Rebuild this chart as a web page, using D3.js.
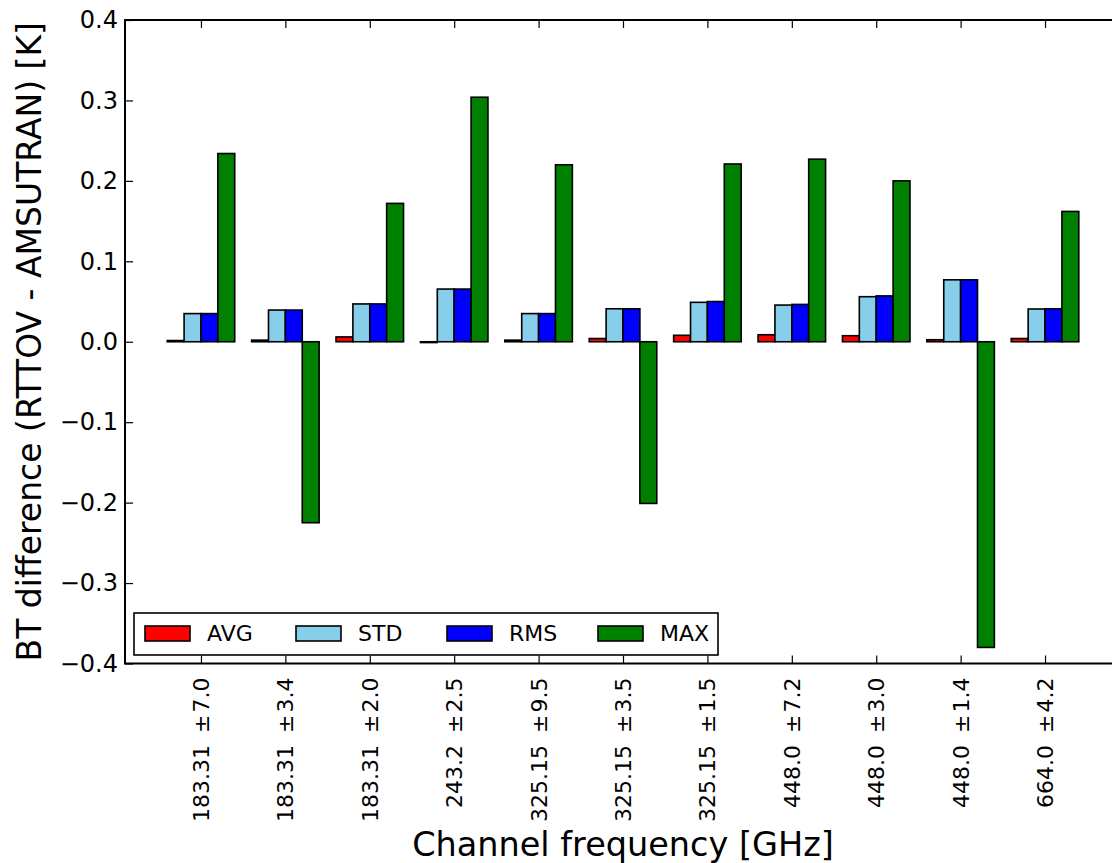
<!DOCTYPE html>
<html>
<head>
<meta charset="utf-8">
<script src="https://cdn.jsdelivr.net/npm/d3@7"></script>
<style>
  html, body { margin: 0; padding: 0; background: #fff; }
  svg text { font-family: "DejaVu Sans", sans-serif; fill: #000; }
</style>
</head>
<body>
<svg id="chart" width="1112" height="863"></svg>
<script>
// Channel labels: centre frequency and sideband offset [GHz]
const channelFreq = ["183.31", "183.31", "183.31", "243.2", "325.15", "325.15", "325.15", "448.0", "448.0", "448.0", "664.0"];
const channelOffset = ["7.0", "3.4", "2.0", "2.5", "9.5", "3.5", "1.5", "7.2", "3.0", "1.4", "4.2"];

// BT difference statistics per channel [K]
const avgValues = [0.0015, 0.002, 0.006, -0.001, 0.002, 0.004, 0.008, 0.0087, 0.0075, 0.0025, 0.004];
const stdValues = [0.035, 0.0394, 0.047, 0.0655, 0.035, 0.041, 0.049, 0.0456, 0.056, 0.077, 0.0407];
const rmsValues = [0.035, 0.0394, 0.047, 0.0655, 0.035, 0.041, 0.050, 0.0464, 0.057, 0.077, 0.041];
const maxValues = [0.234, -0.225, 0.172, 0.304, 0.220, -0.201, 0.221, 0.227, 0.200, -0.380, 0.162];

const seriesNames = ["AVG", "STD", "RMS", "MAX"];
const seriesColors = ["#ff0000", "#87ceeb", "#0000ff", "#008000"];
const seriesValues = [avgValues, stdValues, rmsValues, maxValues];

const yTicks = [-0.4, -0.3, -0.2, -0.1, 0.0, 0.1, 0.2, 0.3, 0.4];

const svg = d3.select("#chart");

const plot = { left: 125, top: 20, right: 1121, bottom: 663.5 };
const barWidth = 0.2;

const x = d3.scaleLinear().domain([0, 11.8]).range([plot.left, plot.right]);
const y = d3.scaleLinear().domain([-0.4, 0.4]).range([plot.bottom, plot.top]);

const tickPos = channelFreq.map((_, i) => 0.9 + i);
const fmt = v => (v < 0 ? "\u2212" : "") + Math.abs(v).toFixed(1);

// Bars
const bars = svg.append("g");
seriesValues.forEach((vals, s) => {
  bars.selectAll(null)
    .data(vals)
    .enter()
    .append("rect")
    .attr("x", (d, i) => x(0.5 + i + s * barWidth))
    .attr("width", x(barWidth) - x(0))
    .attr("y", d => y(Math.max(0, d)))
    .attr("height", d => Math.abs(y(d) - y(0)))
    .attr("fill", seriesColors[s])
    .attr("stroke", "#000")
    .attr("stroke-width", 1.6);
});

// Axes (ticks pointing inward)
const tickLen = 8;
const yAxis = d3.axisLeft(y).tickValues(yTicks).tickFormat(fmt).tickSizeInner(-tickLen).tickSizeOuter(0).tickPadding(7);
const gy = svg.append("g").attr("transform", `translate(${plot.left},0)`).call(yAxis);
gy.select(".domain").remove();
gy.selectAll(".tick line").attr("stroke", "#000").attr("stroke-width", 1.2);
gy.selectAll(".tick text").attr("font-size", 24).attr("font-family", "DejaVu Sans");

const xAxis = d3.axisBottom(x).tickValues(tickPos).tickFormat("").tickSizeInner(-tickLen).tickSizeOuter(0);
const gx = svg.append("g").attr("transform", `translate(0,${plot.bottom})`).call(xAxis);
gx.select(".domain").remove();
gx.selectAll(".tick line").attr("stroke", "#000").attr("stroke-width", 1.2);

const xTop = d3.axisTop(x).tickValues(tickPos).tickFormat("").tickSizeInner(-tickLen).tickSizeOuter(0);
const gxt = svg.append("g").attr("transform", `translate(0,${plot.top})`).call(xTop);
gxt.select(".domain").remove();
gxt.selectAll(".tick line").attr("stroke", "#000").attr("stroke-width", 1.2);

// Rotated channel labels
const xl = svg.append("g").attr("font-size", 22);
tickPos.forEach((t, i) => {
  const tx = x(t) + 8;
  const ty = plot.bottom + 14;
  const txt = xl.append("text")
    .attr("transform", `translate(${tx},${ty}) rotate(-90)`)
    .attr("text-anchor", "end");
  txt.append("tspan").text(channelFreq[i]);
  txt.append("tspan").attr("dx", 12).text("\u00b1");
  txt.append("tspan").attr("dx", 2).text(channelOffset[i]);
});

// Frame
svg.append("rect")
  .attr("x", plot.left).attr("y", plot.top)
  .attr("width", plot.right - plot.left).attr("height", plot.bottom - plot.top)
  .attr("fill", "none").attr("stroke", "#000").attr("stroke-width", 2);

// Axis titles
svg.append("text")
  .attr("transform", `translate(41,${(plot.top + plot.bottom) / 2}) rotate(-90)`)
  .attr("text-anchor", "middle").attr("font-size", 33)
  .text("BT difference (RTTOV - AMSUTRAN) [K]");
svg.append("text")
  .attr("x", (plot.left + plot.right) / 2).attr("y", 856)
  .attr("text-anchor", "middle").attr("font-size", 33.5)
  .text("Channel frequency [GHz]");

// Legend
const leg = svg.append("g");
leg.append("rect")
  .attr("x", 134).attr("y", 613).attr("width", 584).attr("height", 42)
  .attr("fill", "#fff").attr("stroke", "#000").attr("stroke-width", 1.6);
seriesNames.forEach((name, s) => {
  const lx = 145 + s * 151;
  leg.append("rect")
    .attr("x", lx).attr("y", 626).attr("width", 45).attr("height", 15)
    .attr("fill", seriesColors[s]).attr("stroke", "#000").attr("stroke-width", 1.6);
  leg.append("text")
    .attr("x", lx + 62).attr("y", 641)
    .attr("font-size", 22)
    .text(name);
});
</script>
</body>
</html>
